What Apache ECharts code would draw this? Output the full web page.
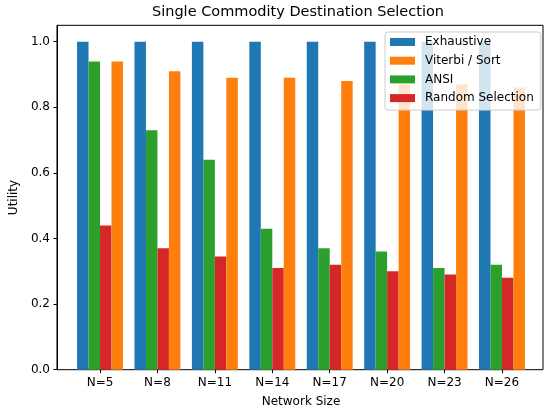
<!DOCTYPE html>
<html>
<head>
<meta charset="utf-8">
<script src="https://cdn.jsdelivr.net/npm/echarts@6/dist/echarts.min.js"></script>
<style>
  html, body { margin: 0; padding: 0; background: #fff; }
  #chart { width: 544px; height: 414px; }
</style>
</head>
<body>
<div id="chart"></div>
<script>
// data
var categories = ['N=5', 'N=8', 'N=11', 'N=14', 'N=17', 'N=20', 'N=23', 'N=26']
var exhaustive = [1.0, 1.0, 1.0, 1.0, 1.0, 1.0, 1.0, 1.0]
var viterbiSort = [0.94, 0.91, 0.89, 0.89, 0.88, 0.87, 0.87, 0.86]
var ansi = [0.94, 0.73, 0.64, 0.43, 0.37, 0.36, 0.31, 0.32]
var randomSel = [0.44, 0.37, 0.345, 0.31, 0.32, 0.30, 0.29, 0.28]
var yTicks = [0, 0.2, 0.4, 0.6, 0.8, 1.0]

var font = 'DejaVu Sans'
var chart = echarts.init(document.getElementById('chart'))

function bar(name, data, color) {
  return {
    name: name,
    type: 'bar',
    xAxisIndex: 0,
    yAxisIndex: 0,
    data: data,
    barGap: '0%',
    barCategoryGap: '20%',
    itemStyle: { color: color },
    emphasis: { disabled: true }
  }
}

var option = {
  animation: false,
  textStyle: { fontFamily: font },
  title: {
    text: 'Single Commodity Destination Selection',
    left: 298,
    textAlign: 'center',
    top: 5,
    padding: 0,
    textStyle: { fontFamily: font, fontSize: 14.5, fontWeight: 'normal', color: '#000' }
  },
  legend: {
    data: ['Exhaustive', 'Viterbi / Sort', 'ANSI', 'Random Selection'],
    orient: 'vertical',
    left: 385,
    top: 32,
    padding: [3, 7, 5, 5],
    itemWidth: 25,
    itemHeight: 8,
    itemGap: 4.7,
    icon: 'rect',
    backgroundColor: 'rgba(255,255,255,0.8)',
    borderColor: '#cccccc',
    borderWidth: 1,
    borderRadius: 3,
    textStyle: { fontFamily: font, fontSize: 12, color: '#000', lineHeight: 14, padding: [0, 0, 0, 5] }
  },
  grid: [
    // bars
    { left: 71.3, right: 13.3, top: 25.3, bottom: 44.3 },
    // axes frame
    { left: 52.5, right: 1, top: 25.3, bottom: 44.3, show: true, borderColor: '#000', borderWidth: 1, backgroundColor: 'transparent' }
  ],
  xAxis: [
    {
      type: 'category',
      gridIndex: 0,
      data: categories,
      name: 'Network Size',
      nameLocation: 'middle',
      nameGap: 26,
      nameTextStyle: { fontFamily: font, fontSize: 12, color: '#000' },
      axisLine: { show: false },
      axisTick: { show: true, alignWithLabel: true, length: 3.5, lineStyle: { color: '#000' } },
      axisLabel: { fontFamily: font, fontSize: 12, color: '#000', margin: 7 },
      splitLine: { show: false }
    },
    { type: 'value', gridIndex: 1, min: 0, max: 1, show: false }
  ],
  yAxis: [
    { type: 'value', gridIndex: 0, min: 0, max: 1.05, show: false },
    {
      type: 'value',
      gridIndex: 1,
      min: 0,
      max: 1.05,
      name: 'Utility',
      nameLocation: 'middle',
      nameGap: 29,
      nameTextStyle: { fontFamily: font, fontSize: 12, color: '#000' },
      axisLine: { show: true, lineStyle: { color: '#000' } },
      axisTick: { show: true, length: 3.5, lineStyle: { color: '#000' }, customValues: yTicks },
      axisLabel: {
        fontFamily: font, fontSize: 12, color: '#000', margin: 7,
        customValues: yTicks,
        formatter: function (v) { return v.toFixed(1) }
      },
      splitLine: { show: false }
    }
  ],
  series: [
    bar('Exhaustive', exhaustive, '#1f77b4'),
    bar('ANSI', ansi, '#2ca02c'),
    bar('Random Selection', randomSel, '#d62728'),
    bar('Viterbi / Sort', viterbiSort, '#ff7f0e')
  ]
}

chart.setOption(option)
</script>
</body>
</html>
